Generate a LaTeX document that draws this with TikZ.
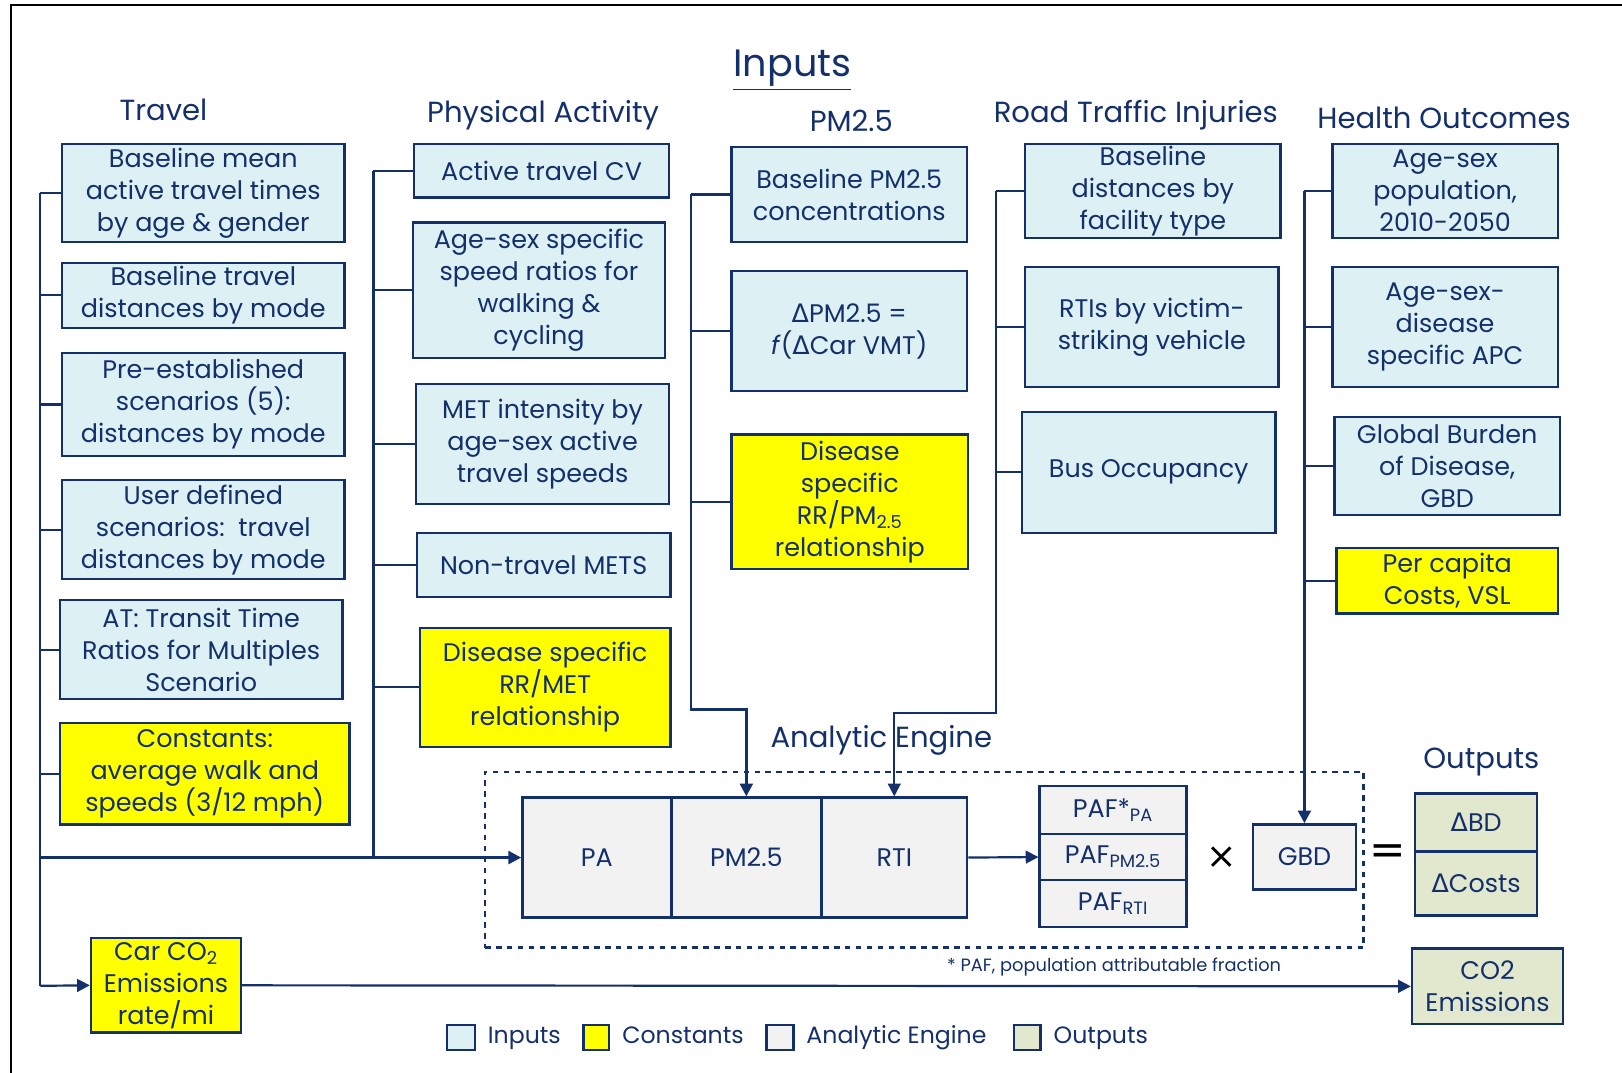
\documentclass[tikz,border=0pt]{standalone}
\usepackage{fontspec}
\setmainfont{Poppins}
\newfontfamily\symfont{DejaVu Sans}
\usetikzlibrary{arrows.meta,positioning}

\definecolor{navy}{HTML}{14306B}
\definecolor{inblue}{HTML}{DDF0F4}
\definecolor{constyellow}{HTML}{FFFF00}
\definecolor{enginegray}{HTML}{F2F2F2}
\definecolor{outgreen}{HTML}{E2E8CE}

\newcommand{\dlt}{{\symfont Δ}}
\newcommand{\boxfont}{\fontsize{14}{17.6}\selectfont}
\newcommand{\headfont}{\fontsize{16}{19}\selectfont}
\newcommand{\legfont}{\fontsize{13}{16}\selectfont}

\tikzset{
  span/.style args={#1/#2/#3/#4}{minimum width={(#3-#1)*0.02cm}, minimum height={(#4-#2)*0.02cm},
    at={({(#1+#3)/2},{(#2+#4)/2})}},
  inbox/.style={draw=navy, line width=1.3pt, fill=inblue, inner sep=0pt, align=center, text=navy, font=\boxfont},
  constbox/.style={inbox, fill=constyellow},
  enginebox/.style={inbox, fill=enginegray},
  outbox/.style={inbox, fill=outgreen},
  header/.style={text=navy, font=\headfont},
  legtext/.style={text=navy, font=\legfont, text height=1.6ex, text depth=0.4ex},
  bus/.style={draw=navy, line width=1.2pt},
  arr/.style={bus, -{Triangle[length=7pt,width=7pt]}},
}

\begin{document}
\begin{tikzpicture}[x=0.02cm,y=-0.02cm]
\useasboundingbox (0,0) rectangle (1568,1037);
\draw[black, line width=1.2pt] (11,1037) -- (11,5) -- (1568,5);

\node[text=navy, font=\fontsize{21}{24}\selectfont] (inputs) at (766,68) {\underline{Inputs}};

% travel
\node[header] (travel) at (158,106) {Travel};
\node[inbox, span=60/139/333/234] (t1) {Baseline mean\\active travel times\\by age \& gender};
\node[inbox, span=60/254/333/317] (t2) {Baseline travel\\distances by mode};
\node[inbox, span=60/341/333/441] (t3) {Pre-established\\scenarios (5):\\distances by mode};
\node[inbox, span=60/464/333/560] (t4) {User defined\\scenarios:\ \ travel\\distances by mode};
\node[inbox, span=58/580/331/676] (t5) {AT: Transit Time\\Ratios for Multiples\\Scenario};
\node[constbox, span=58/699/338/797] (t6) {Constants:\\average walk and\\speeds (3/12 mph)};

% physical activity
\node[header] (physact) at (525,111) {Physical Activity};
\node[inbox, span=400/139/647/191] (p1) {Active travel CV};
\node[inbox, span=399/215/643/346] (p2) {Age-sex specific\\speed ratios for\\walking \&\\cycling};
\node[inbox, span=402/371/647/487] (p3) {MET intensity by\\age-sex active\\travel speeds};
\node[inbox, span=403/515/648/577] (p4) {Non-travel METS};
\node[constbox, span=406/607/648/722] (p5) {Disease specific\\RR/MET\\relationship};

% pm2.5
\node[header] (pmhead) at (823,117) {PM2.5};
\node[inbox, span=707/142/935/234] (m1) {Baseline PM2.5\\concentrations};
\node[inbox, span=707/262/935/378] (m2) {\dlt PM2.5 =\\\textit{f}(\dlt Car VMT)};
\node[constbox, span=707/420/936/550] (m3) {Disease\\specific\\RR/PM\textsubscript{2.5}\\relationship};

% road traffic injuries
\node[header] (rtihead) at (1098,111) {Road Traffic Injuries};
\node[inbox, span=991/139/1238/230] (r1) {Baseline\\distances by\\facility type};
\node[inbox, span=991/258/1236/374] (r2) {RTIs by victim-\\striking vehicle};
\node[inbox, span=988/398/1233/515] (r3) {Bus Occupancy};

% health outcomes
\node[header] (healthhead) at (1396,114) {Health Outcomes};
\node[inbox, span=1288/139/1506/230] (h1) {Age-sex\\population,\\2010-2050};
\node[inbox, span=1288/258/1506/374] (h2) {Age-sex-\\disease\\specific APC};
\node[inbox, span=1290/403/1508/498] (h3) {Global Burden\\of Disease,\\GBD};
\node[constbox, span=1292/530/1506/593] (h4) {Per capita\\Costs, VSL};

% analytic engine
\node[header] (aelabel) at (852,716) {Analytic Engine};
\node[draw=navy, dashed, line width=1.2pt, inner sep=0pt, span=469/746/1318/916] (engine) {};
\node[enginebox, span=505/771/649/887] (pa) {PA};
\node[enginebox, span=649/771/794/887] (pm) {PM2.5};
\node[enginebox, span=794/771/935/887] (rti) {RTI};
\node[enginebox, span=1005/760/1147/806] (paf1) {PAF*\textsubscript{PA}};
\node[enginebox, span=1005/806/1147/851] (paf2) {PAF\textsubscript{PM2.5}};
\node[enginebox, span=1005/851/1147/896] (paf3) {PAF\textsubscript{RTI}};
\node[font=\symfont\fontsize{20}{20}\selectfont] (times) at (1181,829) {×};
\node[enginebox, span=1211/797/1311/860] (gbd) {GBD};
\node[font=\symfont\fontsize{24}{24}\selectfont] (equals) at (1342,826) {=};
\node[text=navy, font=\fontsize{9.8}{11}\selectfont] (note) at (1077,935) {* PAF, population attributable fraction};

% outputs
\node[header] (outhead) at (1432,737) {Outputs};
\node[outbox, span=1368/767/1486/823] (bd) {\dlt BD};
\node[outbox, span=1368/823/1486/885] (costs) {\dlt Costs};
\node[constbox, span=88/907/233/998] (car) {Car CO\textsubscript{2}\\Emissions\\rate/mi};
\node[outbox, span=1365/917/1511/990] (co2) {CO2\\Emissions};

% buses
\coordinate (tbus) at (39,953);
\foreach \i in {1,...,6} \draw[bus] (t\i.west) -- (t\i.west -| tbus);
\draw[bus] (t1.west -| tbus) -- (tbus);
\draw[arr] (tbus) -- (car.west);
\coordinate (pbus) at (361,829);
\foreach \i in {1,...,5} \draw[bus] (p\i.west) -- (p\i.west -| pbus);
\draw[bus] (p1.west -| pbus) -- (pbus);
\draw[arr, line width=1.6pt] (pa.west -| tbus) -- (pa.west);
\coordinate (mbus) at (668,686);
\foreach \i in {1,...,3} \draw[bus] (m\i.west) -- (m\i.west -| mbus);
\draw[arr, line width=1.6pt] (m1.west -| mbus) -- (mbus) -| (pm.north);
\coordinate (rbus) at (963,689);
\foreach \i in {1,...,3} \draw[bus] (r\i.west) -- (r\i.west -| rbus);
\draw[arr] (r1.west -| rbus) -- (rbus) -| (rti.north);
\foreach \i in {1,...,4} \draw[bus] (h\i.west) -- (h\i.west -| gbd.north);
\draw[arr, line width=1.6pt] (h1.west -| gbd.north) -- (gbd.north);
\draw[arr] (rti.east) -- (paf2.west);
\draw[arr] (car.east) -- (co2.west);

% legend
\node[inbox, span=432/991/459/1015] (leginputs) {};
\node[legtext, right=3pt of leginputs] (legl1) {Inputs};
\node[constbox, span=564/991/589/1015] (legconst) {};
\node[legtext, right=3pt of legconst] (legl2) {Constants};
\node[enginebox, span=741/991/767/1015] (legengine) {};
\node[legtext, right=3pt of legengine] (legl3) {Analytic Engine};
\node[outbox, span=980/991/1006/1015] (legout) {};
\node[legtext, right=3pt of legout] (legl4) {Outputs};
\end{tikzpicture}
\end{document}
